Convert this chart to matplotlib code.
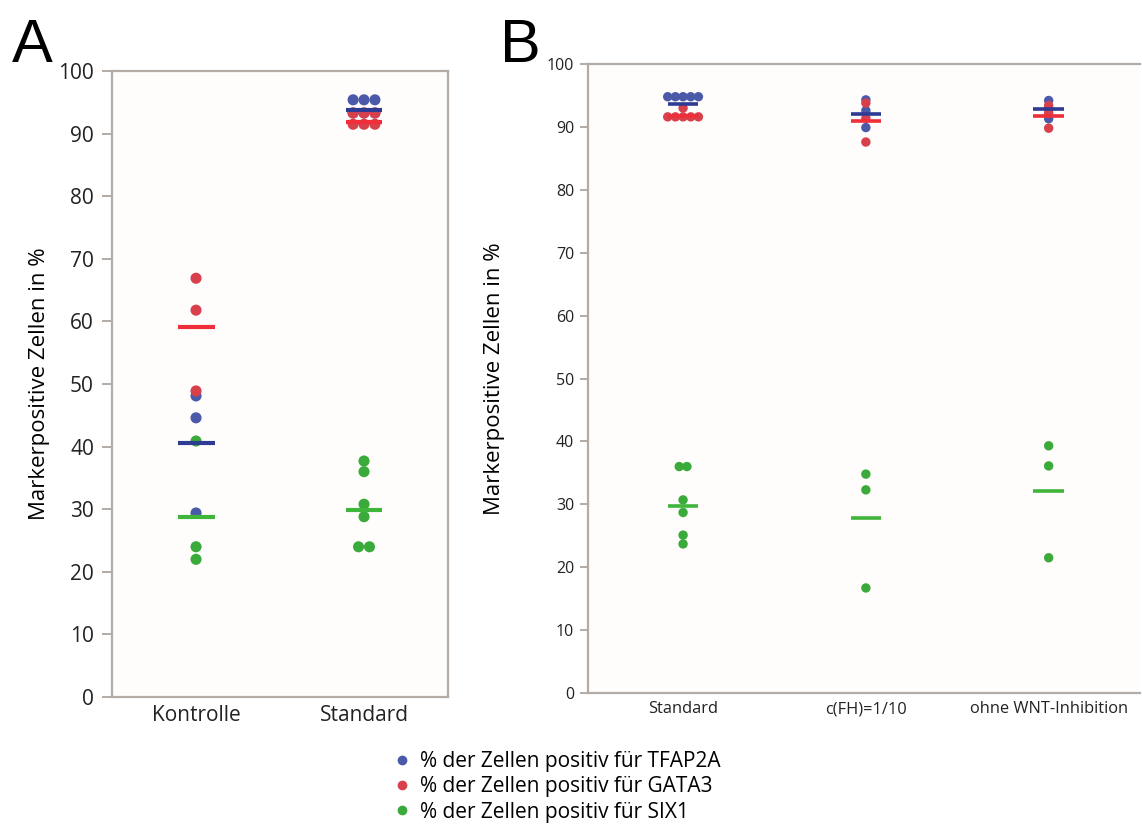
import matplotlib
matplotlib.use("Agg")
import matplotlib.pyplot as plt
from matplotlib.lines import Line2D
import numpy as np

plt.rcParams['font.family'] = ['Open Sans', 'DejaVu Sans']

# Panel A data
cats_a = ["Kontrolle", "Standard"]
tfap2a_a = [[48.1, 44.6, 29.4], [95.4, 95.4, 95.4, 93.3, 93.3, 93.3]]
gata3_a = [[66.9, 61.8, 48.9], [93.3, 93.3, 93.3, 91.5, 91.5, 91.5]]
six1_a = [[40.9, 24.0, 22.0], [37.7, 36.0, 30.8, 28.8, 24.0, 24.0]]
mean_tfap2a_a = [40.5, 93.8]
mean_gata3_a = [59.1, 91.8]
mean_six1_a = [28.8, 29.8]

# Panel B data
cats_b = ["Standard", "c(FH)=1/10", "ohne WNT-Inhibition"]
tfap2a_b = [[94.8, 94.8, 94.8, 94.8, 94.8], [94.3, 92.6, 89.9], [94.2, 92.8, 91.3]]
gata3_b = [[93.0, 91.6, 91.6, 91.6, 91.6, 91.6], [93.8, 91.4, 87.6], [93.4, 92.2, 89.8]]
six1_b = [[36.0, 36.0, 30.7, 28.7, 25.1, 23.7], [34.8, 32.3, 16.7], [39.3, 36.1, 21.5]]
mean_tfap2a_b = [93.6, 92.1, 92.8]
mean_gata3_b = [91.8, 90.9, 91.8]
mean_six1_b = [29.7, 27.8, 32.1]

labels = ["% der Zellen positiv für TFAP2A",
          "% der Zellen positiv für GATA3",
          "% der Zellen positiv für SIX1"]

dot_colors = ["#4b5aa8", "#d8404c", "#3aab3a"]
line_colors = ["#2e3b92", "#ee2e38", "#3fb63b"]
spine_col = "#b3aca6"


def spread(vals, step):
    # put equal values side by side
    vals = np.asarray(vals)
    offs = np.zeros(len(vals))
    for v in np.unique(vals):
        idx = np.where(vals == v)[0]
        n = len(idx)
        offs[idx] = (np.arange(n) - (n - 1) / 2) * step
    return offs


def draw_panel(ax, cats, series, means, step, half, msize, lw):
    for k, (ser, col) in enumerate(zip(series, dot_colors)):
        for i, vals in enumerate(ser):
            xs = i + spread(vals, step)
            ax.scatter(xs, vals, s=msize, color=col, edgecolor='none', zorder=2 + k * 0.1)
    for k, (m, col) in enumerate(zip(means, line_colors)):
        for i, v in enumerate(m):
            ax.plot([i - half, i + half], [v, v], color=col, lw=lw,
                    solid_capstyle='butt', zorder=3)
    ax.set_ylim(0, 100)
    ax.set_yticks(range(0, 101, 10))
    ax.set_xticks(range(len(cats)))
    ax.set_xticklabels(cats)
    for s in ax.spines.values():
        s.set_color(spine_col)
        s.set_linewidth(1.6)
    ax.tick_params(axis='y', color=spine_col, width=1.4, length=7, colors='#222222')
    ax.tick_params(axis='y', color=spine_col)
    ax.tick_params(axis='x', length=0, colors='#222222')
    ax.set_facecolor('#fffdfc')


fig = plt.figure(figsize=(11.42, 8.24), dpi=100)

ax1 = fig.add_axes([0.0981, 0.1541, 0.2942, 0.7597])
draw_panel(ax1, cats_a, [tfap2a_a, gata3_a, six1_a],
           [mean_tfap2a_a, mean_gata3_a, mean_six1_a],
           step=0.065, half=0.11, msize=64, lw=3)
ax1.set_xlim(-0.5, 1.5)
ax1.tick_params(axis='y', labelsize=15, pad=6)
ax1.tick_params(axis='x', labelsize=15, pad=6)
ax1.set_ylabel("Markerpositive Zellen in %", fontsize=16)
ax1.yaxis.set_label_coords(-0.185, 0.5)

ax2 = fig.add_axes([0.5149, 0.1590, 0.4834, 0.7633])
draw_panel(ax2, cats_b, [tfap2a_b, gata3_b, six1_b],
           [mean_tfap2a_b, mean_gata3_b, mean_six1_b],
           step=0.042, half=0.083, msize=46, lw=2.6)
ax2.set_xlim(-0.52, 2.5)
ax2.spines['right'].set_visible(False)
ax2.tick_params(axis='y', labelsize=11.5, pad=4, length=6)
ax2.tick_params(axis='x', labelsize=11.8, pad=6)
ax2.set_ylabel("Markerpositive Zellen in %", fontsize=16)
ax2.yaxis.set_label_coords(-0.15, 0.5)

fig.text(12 / 1142, 1 - 62 / 824, "A", fontsize=44, family='Liberation Sans', va='baseline')
fig.text(500 / 1142, 1 - 62 / 824, "B", fontsize=44, family='Liberation Sans', va='baseline')

handles = [Line2D([], [], marker='o', ls='none', color=c, markersize=6) for c in dot_colors]
fig.legend(handles, labels, loc='center', bbox_to_anchor=(0.486, 0.045),
           frameon=False, fontsize=15, handletextpad=0.3, labelspacing=0.2,
           handlelength=1.2, borderpad=0)

fig.savefig("out.png", dpi=100, facecolor='white')
